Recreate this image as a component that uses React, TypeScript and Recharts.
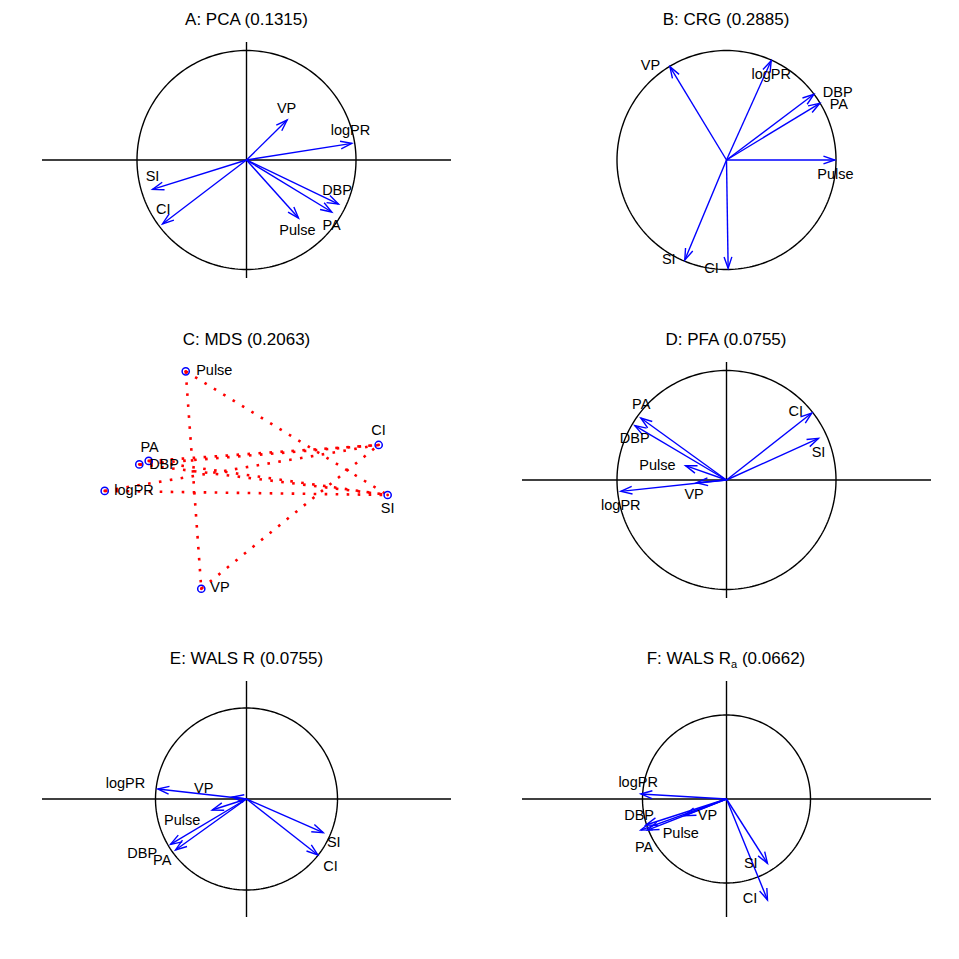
import React from 'react';
import { ScatterChart, Scatter, XAxis, YAxis, ReferenceLine } from 'recharts';

// Variable order used in every panel
const vars = ['VP', 'logPR', 'DBP', 'PA', 'Pulse', 'CI', 'SI'];

// A: PCA
const pcaX = [0.371, 0.962, 0.84, 0.779, 0.475, -0.767, -0.858];
const pcaY = [0.365, 0.152, -0.402, -0.475, -0.53, -0.584, -0.268];
const pcaLabX = [0.366, 0.95, 0.827, 0.777, 0.465, -0.761, -0.858];
const pcaLabY = [0.477, 0.277, -0.277, -0.596, -0.641, -0.452, -0.146];

// B: CRG
const crgX = [-0.517, 0.408, 0.798, 0.852, 0.989, 0.015, -0.381];
const crgY = [0.852, 0.907, 0.6, 0.518, 0.0, -0.989, -0.913];
const crgLabX = [-0.694, 0.408, 1.016, 1.026, 0.995, -0.137, -0.527];
const crgLabY = [0.865, 0.783, 0.621, 0.515, -0.124, -0.986, -0.9];

// C: MDS
const mdsX = [-0.413, -1.295, -0.893, -0.979, -0.555, 1.207, 1.289];
const mdsY = [-0.993, -0.1, 0.174, 0.142, 0.992, 0.32, -0.137];
const mdsLabX = [-0.242, -1.027, -0.753, -0.885, -0.294, 1.205, 1.289];
const mdsLabY = [-0.981, -0.091, 0.146, 0.298, 1.005, 0.457, -0.259];
const mdsEdges: [string, string][] = [
  ['Pulse', 'VP'], ['Pulse', 'SI'], ['VP', 'CI'],
  ['PA', 'CI'], ['DBP', 'CI'], ['PA', 'SI'], ['DBP', 'SI'],
  ['logPR', 'CI'], ['logPR', 'SI'],
];

// D: PFA
const pfaX = [-0.274, -0.965, -0.837, -0.783, -0.374, 0.779, 0.84];
const pfaY = [-0.025, -0.104, 0.496, 0.566, 0.131, 0.612, 0.38];
const pfaLabX = [-0.296, -0.965, -0.838, -0.779, -0.63, 0.633, 0.84];
const pfaLabY = [-0.128, -0.225, 0.384, 0.694, 0.137, 0.633, 0.259];

// E: WALS R
const walsX = [-0.154, -0.975, -0.835, -0.78, -0.377, 0.784, 0.843];
const walsY = [0.022, 0.11, -0.498, -0.56, -0.121, -0.615, -0.37];
const walsLabX = [-0.47, -1.33, -1.146, -0.926, -0.706, 0.923, 0.959];
const walsLabY = [0.117, 0.179, -0.597, -0.674, -0.231, -0.737, -0.476];

// F: WALS Ra
const walsaX = [-0.5, -1.02, -0.96, -1.02, -0.94, 0.488, 0.488];
const walsaY = [-0.2, 0.06, -0.31, -0.37, -0.37, -1.202, -0.766];
const walsaLabX = [-0.226, -1.052, -1.04, -0.981, -0.544, 0.281, 0.289];
const walsaLabY = [-0.19, 0.206, -0.19, -0.568, -0.408, -1.182, -0.758];

// y half-range of each panel's plotting window (data units)
const yLimits = [1.0776, 1.0776, 1.0776, 1.0776, 1.2967, 1.4048];

const W = 480;
const H = 320;
const MARGIN = { top: 42, right: 29, bottom: 42, left: 42 };
const PW = W - MARGIN.left - MARGIN.right;
const PH = H - MARGIN.top - MARGIN.bottom;
const FONT = '"Liberation Sans", Arial, Helvetica, sans-serif';
const BLUE = '#0000FF';
const RED = '#FF0000';

// unit circle (reference geometry, radius 1)
const unitCircle = Array.from({ length: 241 }, (_, i) => {
  const t = (i / 240) * 2 * Math.PI;
  return { x: Math.cos(t), y: Math.sin(t) };
});

const Empty = () => <g />;

const ArrowHead = (props: any) => {
  const { cx, cy, payload } = props;
  if (!payload || !payload.tip || cx == null || cy == null) return <g />;
  const len = Math.hypot(payload.x, payload.y) || 1;
  const bx = -payload.x / len;
  const by = payload.y / len;
  const L = 12;
  const a = (19 * Math.PI) / 180;
  const r = (s: number) => ({
    x: bx * Math.cos(s * a) - by * Math.sin(s * a),
    y: bx * Math.sin(s * a) + by * Math.cos(s * a),
  });
  const p1 = r(1);
  const p2 = r(-1);
  return (
    <path
      d={`M${cx + p1.x * L},${cy + p1.y * L}L${cx},${cy}L${cx + p2.x * L},${cy + p2.y * L}`}
      fill="none"
      stroke={BLUE}
      strokeWidth={1.4}
    />
  );
};

const LabelShape = (props: any) => {
  const { cx, cy, payload } = props;
  if (cx == null || cy == null) return <g />;
  return (
    <text
      x={cx}
      y={cy}
      textAnchor="middle"
      dominantBaseline="central"
      fontFamily={FONT}
      fontSize={14.5}
      fill="#000"
    >
      {payload.name}
    </text>
  );
};

const MdsPoint = (props: any) => {
  const { cx, cy } = props;
  if (cx == null || cy == null) return <g />;
  return (
    <g>
      <circle cx={cx} cy={cy} r={3.6} fill="none" stroke={BLUE} strokeWidth={1.5} />
      <circle cx={cx} cy={cy} r={1.4} fill={RED} />
    </g>
  );
};

type PanelSpec = {
  xs: number[];
  ys: number[];
  lx: number[];
  ly: number[];
  yHalf: number;
  axes: boolean;
  circle: boolean;
  mds?: boolean;
};

function Panel({ spec }: { spec: PanelSpec }) {
  const yHalf = spec.yHalf;
  const xHalf = (yHalf * PW) / PH;
  const labels = vars.map((name, i) => ({ x: spec.lx[i], y: spec.ly[i], name }));
  const pts = vars.map((name, i) => ({ x: spec.xs[i], y: spec.ys[i], name }));
  return (
    <ScatterChart width={W} height={H} margin={MARGIN}>
      <XAxis type="number" dataKey="x" domain={[-xHalf, xHalf]} hide allowDataOverflow />
      <YAxis type="number" dataKey="y" domain={[-yHalf, yHalf]} hide allowDataOverflow />
      {spec.axes && <ReferenceLine x={0} stroke="#000" strokeWidth={1.4} />}
      {spec.axes && <ReferenceLine y={0} stroke="#000" strokeWidth={1.4} />}
      {spec.circle && (
        <Scatter
          data={unitCircle}
          line={{ stroke: '#000', strokeWidth: 1.4 }}
          shape={Empty}
          isAnimationActive={false}
        />
      )}
      {!spec.mds &&
        pts.map((p) => (
          <Scatter
            key={'arr' + p.name}
            data={[
              { x: 0, y: 0, tip: false },
              { x: p.x, y: p.y, tip: true },
            ]}
            line={{ stroke: BLUE, strokeWidth: 1.4 }}
            shape={ArrowHead}
            isAnimationActive={false}
          />
        ))}
      {spec.mds &&
        mdsEdges.map(([a, b]) => {
          const pa = pts.find((p) => p.name === a)!;
          const pb = pts.find((p) => p.name === b)!;
          return (
            <Scatter
              key={'e' + a + b}
              data={[{ x: pa.x, y: pa.y }, { x: pb.x, y: pb.y }]}
              line={{ stroke: RED, strokeWidth: 2.6, strokeDasharray: '2.6 8.4' }}
              shape={Empty}
              isAnimationActive={false}
            />
          );
        })}
      {spec.mds && <Scatter data={pts} shape={MdsPoint} isAnimationActive={false} />}
      <Scatter data={labels} shape={LabelShape} isAnimationActive={false} />
    </ScatterChart>
  );
}

const panels: { title: React.ReactNode; spec: PanelSpec }[] = [
  {
    title: 'A: PCA (0.1315)',
    spec: { xs: pcaX, ys: pcaY, lx: pcaLabX, ly: pcaLabY, yHalf: yLimits[0], axes: true, circle: true },
  },
  {
    title: 'B: CRG (0.2885)',
    spec: { xs: crgX, ys: crgY, lx: crgLabX, ly: crgLabY, yHalf: yLimits[1], axes: false, circle: true },
  },
  {
    title: 'C: MDS (0.2063)',
    spec: { xs: mdsX, ys: mdsY, lx: mdsLabX, ly: mdsLabY, yHalf: yLimits[2], axes: false, circle: false, mds: true },
  },
  {
    title: 'D: PFA (0.0755)',
    spec: { xs: pfaX, ys: pfaY, lx: pfaLabX, ly: pfaLabY, yHalf: yLimits[3], axes: true, circle: true },
  },
  {
    title: 'E: WALS R (0.0755)',
    spec: { xs: walsX, ys: walsY, lx: walsLabX, ly: walsLabY, yHalf: yLimits[4], axes: true, circle: true },
  },
  {
    title: (
      <span>
        F: WALS R
        <sub style={{ fontSize: 11, verticalAlign: '-4px', lineHeight: 0 }}>a</sub> (0.0662)
      </span>
    ),
    spec: { xs: walsaX, ys: walsaY, lx: walsaLabX, ly: walsaLabY, yHalf: yLimits[5], axes: true, circle: true },
  },
];

export default function App() {
  return (
    <div
      style={{
        position: 'absolute',
        left: 0,
        top: 0,
        width: 959,
        height: 959,
        background: '#fff',
        overflow: 'hidden',
      }}
    >
      {panels.map((p, i) => {
        const col = i % 2;
        const row = Math.floor(i / 2);
        const left = col * 479.5;
        const top = row * (959 / 3);
        return (
          <div key={i} style={{ position: 'absolute', left, top, width: W, height: H }}>
            <div
              style={{
                position: 'absolute',
                left: MARGIN.left + PW / 2 - 200,
                width: 400,
                top: 9,
                height: 22,
                lineHeight: '22px',
                textAlign: 'center',
                fontFamily: FONT,
                fontSize: 17,
                color: '#000',
                whiteSpace: 'nowrap',
              }}
            >
              {p.title}
            </div>
            <Panel spec={p.spec} />
          </div>
        );
      })}
    </div>
  );
}
